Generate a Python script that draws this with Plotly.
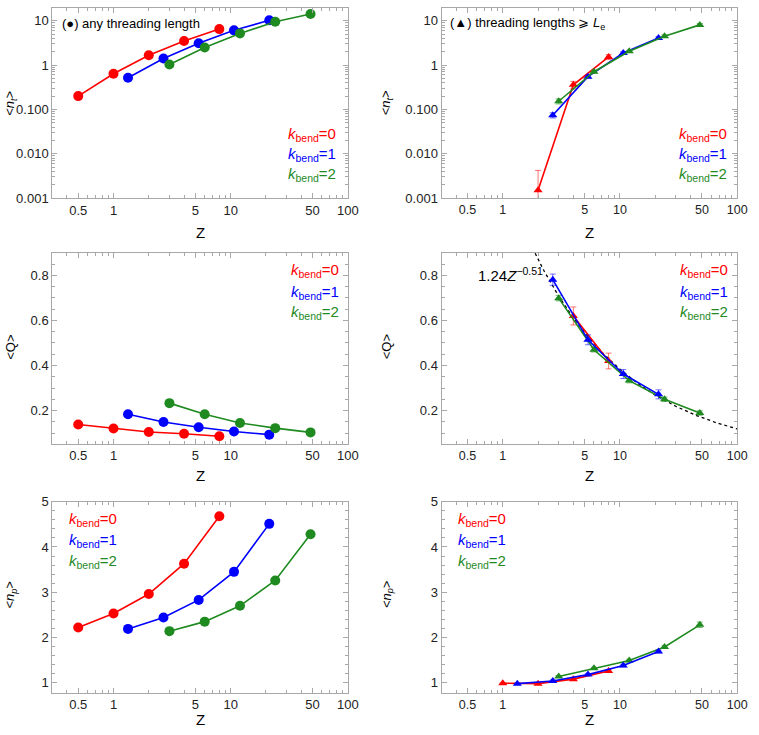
import numpy as np
import plotly.graph_objects as go
from plotly.subplots import make_subplots

# ---------------- data ----------------
Z_k0 = [0.5, 1, 2, 4, 8]
Z_k1 = [1.33, 2.67, 5.33, 10.67, 21.33]
Z_k2 = [3, 6, 12, 24, 48]

# (●) any threading length
nt_any_k0 = [0.20, 0.64, 1.67, 3.5, 6.5]
nt_any_k1 = [0.52, 1.41, 3.13, 6.1, 10.3]
nt_any_k2 = [1.03, 2.5, 5.2, 9.5, 14.3]
Q_any_k0 = [0.138, 0.120, 0.105, 0.097, 0.086]
Q_any_k1 = [0.184, 0.149, 0.126, 0.107, 0.093]
Q_any_k2 = [0.233, 0.184, 0.145, 0.122, 0.103]
np_any_k0 = [2.22, 2.53, 2.96, 3.63, 4.68]
np_any_k1 = [2.19, 2.44, 2.83, 3.45, 4.51]
np_any_k2 = [2.14, 2.35, 2.70, 3.26, 4.28]

# (▲) threading lengths >= Le
Zt_nt_k0 = [2, 4, 8]
nt_le_k0 = [0.0015, 0.36, 1.53]
nt_le_k0_err = [0.0027, 0.07, 0.2]
nt_le_k0_errminus = [0.00145, 0.07, 0.2]
Zt_nt_k1 = [2.67, 5.33, 10.67, 21.33]
nt_le_k1 = [0.074, 0.55, 1.88, 4.1]
nt_le_k1_err = [0.01, 0.04, 0.12, 0.3]
Zt_nt_k2 = [3, 6, 12, 24, 48]
nt_le_k2 = [0.153, 0.71, 2.05, 4.5, 8.1]
nt_le_k2_err = [0.02, 0.05, 0.12, 0.3, 0.6]

Zt_Q_k0 = [4, 8]
Q_le_k0 = [0.62, 0.42]
Q_le_k0_err = [0.04, 0.035]
Zt_Q_k1 = [2.67, 5.33, 10.67, 21.33]
Q_le_k1 = [0.781, 0.514, 0.362, 0.272]
Q_le_k1_err = [0.025, 0.022, 0.02, 0.02]
Zt_Q_k2 = [3, 6, 12, 24, 48]
Q_le_k2 = [0.699, 0.470, 0.333, 0.250, 0.189]
Q_le_k2_err = [0.012, 0.01, 0.01, 0.01, 0.01]

Zt_np_k0 = [1, 2, 4, 8]
np_le_k0 = [0.99, 0.98, 1.08, 1.26]
np_le_k0_err = [0.01, 0.02, 0.02, 0.03]
Zt_np_k1 = [1.33, 2.67, 5.33, 10.67, 21.33]
np_le_k1 = [0.98, 1.04, 1.18, 1.38, 1.69]
np_le_k1_err = [0.01, 0.02, 0.02, 0.03, 0.03]
Zt_np_k2 = [3, 6, 12, 24, 48]
np_le_k2 = [1.14, 1.32, 1.49, 1.79, 2.28]
np_le_k2_err = [0.02, 0.02, 0.03, 0.03, 0.06]

fit_coef = 1.24
fit_exp = -0.51

x_tick_vals = [0.5, 1, 5, 10, 50, 100]
x_tick_text = ["0.5", "1", "5", "10", "50", "100"]
nt_tick_vals = [0.001, 0.01, 0.1, 1, 10]
nt_tick_text = ["0.001", "0.010", "0.100", "1", "10"]
Q_tick_vals = [0.2, 0.4, 0.6, 0.8]
np_tick_vals = [1, 2, 3, 4, 5]

# ---------------- style ----------------
RED = "#ff0000"
BLUE = "#0000ff"
GREEN = "#1f8a1f"
ERR = {RED: "rgba(255,0,0,0.55)", BLUE: "rgba(0,0,255,0.55)", GREEN: "rgba(31,138,31,0.6)"}
FONT = "Liberation Sans, Arial, sans-serif"
FRAME = "#a8a8a8"
W, H = 759, 735

fig = make_subplots(rows=3, cols=2)


def add(row, col, x, y, color, symbol, err=None, errminus=None):
    kw = {}
    if err is not None:
        e = dict(type="data", array=err, visible=True, color=ERR[color],
                 thickness=1, width=3)
        if errminus is not None:
            e["symmetric"] = False
            e["arrayminus"] = errminus
        kw["error_y"] = e
    fig.add_trace(go.Scatter(x=x, y=y, mode="lines+markers",
                             line=dict(color=color, width=1.6),
                             marker=dict(color=color, symbol=symbol,
                                         size=10 if symbol == "circle" else 8),
                             showlegend=False, **kw), row=row, col=col)


# left column: circles
add(1, 1, Z_k0, nt_any_k0, RED, "circle")
add(1, 1, Z_k1, nt_any_k1, BLUE, "circle")
add(1, 1, Z_k2, nt_any_k2, GREEN, "circle")
add(2, 1, Z_k0, Q_any_k0, RED, "circle")
add(2, 1, Z_k1, Q_any_k1, BLUE, "circle")
add(2, 1, Z_k2, Q_any_k2, GREEN, "circle")
add(3, 1, Z_k0, np_any_k0, RED, "circle")
add(3, 1, Z_k1, np_any_k1, BLUE, "circle")
add(3, 1, Z_k2, np_any_k2, GREEN, "circle")

# right column: triangles with error bars
add(1, 2, Zt_nt_k0, nt_le_k0, RED, "triangle-up", nt_le_k0_err, nt_le_k0_errminus)
add(1, 2, Zt_nt_k1, nt_le_k1, BLUE, "triangle-up", nt_le_k1_err)
add(1, 2, Zt_nt_k2, nt_le_k2, GREEN, "triangle-up", nt_le_k2_err)

zf = np.logspace(np.log10(1.7), 2, 200)
fig.add_trace(go.Scatter(x=zf, y=fit_coef * zf ** fit_exp, mode="lines",
                         line=dict(color="black", width=1.3, dash="dot"),
                         showlegend=False), row=2, col=2)
add(2, 2, Zt_Q_k0, Q_le_k0, RED, "triangle-up", Q_le_k0_err)
add(2, 2, Zt_Q_k2, Q_le_k2, GREEN, "triangle-up", Q_le_k2_err)
add(2, 2, Zt_Q_k1, Q_le_k1, BLUE, "triangle-up", Q_le_k1_err)

add(3, 2, Zt_np_k2, np_le_k2, GREEN, "triangle-up", np_le_k2_err)
add(3, 2, Zt_np_k0, np_le_k0, RED, "triangle-up", np_le_k0_err)
add(3, 2, Zt_np_k1, np_le_k1, BLUE, "triangle-up", np_le_k1_err)

# ---------------- axes ----------------
xdom = {1: [53 / W, 353 / W], 2: [448 / W, 748 / W]}
ydom = {1: [1 - 195 / H, 1 - 1 / H], 2: [1 - 446 / H, 1 - 251 / H], 3: [1 - 700 / H, 1 - 505 / H]}

x_minor = [v * m for m in (0.1, 1, 10) for v in range(1, 10)
           if 0.3 <= v * m <= 100 and v * m not in x_tick_vals]
nt_minor = [v * m for m in (0.001, 0.01, 0.1, 1, 10) for v in range(2, 10) if v * m <= 20]
Q_minor = [round(0.05 + 0.05 * i, 2) for i in range(17) if round(0.05 + 0.05 * i, 2) not in Q_tick_vals]
np_minor = [round(0.8 + 0.2 * i, 1) for i in range(22) if round(0.8 + 0.2 * i, 1) not in np_tick_vals]

common = dict(showline=True, linecolor=FRAME, linewidth=1, mirror="ticks",
              ticks="inside", ticklen=5, tickcolor=FRAME, showgrid=False, zeroline=False,
              ticklabeloverflow="allow")

axis_n = {(1, 1): "", (1, 2): "2", (2, 1): "3", (2, 2): "4", (3, 1): "5", (3, 2): "6"}
for (r, c), n in axis_n.items():
    fig.layout["xaxis" + n].update(
        type="log", range=[np.log10(0.3), 2], domain=xdom[c],
        tickmode="array", tickvals=x_tick_vals, ticktext=x_tick_text,
        tickfont=dict(family=FONT, size=13 if c == 1 else 12.5, color="#222222"),
        minor=dict(tickvals=x_minor, ticklen=3, ticks="inside", tickcolor=FRAME),
        **common)
    yfont = dict(family=FONT, size=13, color="#222222")
    if r == 1:
        fig.layout["yaxis" + n].update(
            type="log", range=[-3, 1.29], domain=ydom[r], tickfont=yfont,
            tickmode="array", tickvals=nt_tick_vals, ticktext=nt_tick_text,
            minor=dict(tickvals=nt_minor, ticklen=3, ticks="inside", tickcolor=FRAME),
            **common)
    elif r == 2:
        fig.layout["yaxis" + n].update(
            range=[0.052, 0.9], domain=ydom[r], tickfont=yfont,
            tickmode="array", tickvals=Q_tick_vals, ticktext=["0.2", "0.4", "0.6", "0.8"],
            minor=dict(tickvals=Q_minor, ticklen=3, ticks="inside", tickcolor=FRAME),
            **common)
    else:
        fig.layout["yaxis" + n].update(
            range=[0.78, 5], domain=ydom[r], tickfont=yfont,
            tickmode="array", tickvals=np_tick_vals, ticktext=[str(v) for v in np_tick_vals],
            minor=dict(tickvals=np_minor, ticklen=3, ticks="inside", tickcolor=FRAME),
            **common)

# ---------------- annotations ----------------
ann = []


def txt(x, y, text, size=14, color="black", xanchor="left", angle=0):
    ann.append(dict(x=x / W, y=1 - y / H, xref="paper", yref="paper", text=text,
                    showarrow=False, xanchor=xanchor, yanchor="middle", textangle=angle,
                    borderpad=0, font=dict(family=FONT, size=size, color=color)))


# axis titles
for xc in (203, 598):
    for yc in (230, 478, 727):
        txt(xc, yc, "Z", size=15, xanchor="center")
for xc in (11, 393):
    txt(xc, 98, "&lt;<i>n</i><sub><i>t</i></sub>&gt;", size=13, xanchor="center", angle=-90)
    txt(xc, 347, "&lt;Q&gt;", size=13, xanchor="center", angle=-90)
    txt(xc, 600, "&lt;<i>n</i><sub><i>p</i></sub>&gt;", size=13, xanchor="center", angle=-90)

# legends
leg = [("0", RED), ("1", BLUE), ("2", GREEN)]
legend_pos = [(291, [130, 151, 171]), (688, [130, 151, 171]),
              (294, [269, 291, 312]), (689, [269, 291, 312]),
              (69, [523, 545, 566]), (464, [523, 545, 566])]
for x0, ys in legend_pos:
    for (k, col), yy in zip(leg, ys):
        txt(x0, yy, "<i>k</i><sub>bend</sub>=" + k, size=15, color=col)

txt(62, 17, "(●) any threading length", size=13)
txt(456, 17, "(▲) threading lengths ⩾ <i>L</i><sub>e</sub>", size=13)
txt(484, 273, "1.24<i>Z</i><sup>−0.51</sup>", size=15)

fig.update_layout(width=W, height=H, margin=dict(l=0, r=0, t=0, b=0),
                  paper_bgcolor="white", plot_bgcolor="white", annotations=ann,
                  font=dict(family=FONT))
fig.write_html("out.html", config={"displayModeBar": False},
               post_script="document.body.style.margin='0px';document.body.style.overflow='hidden';")
